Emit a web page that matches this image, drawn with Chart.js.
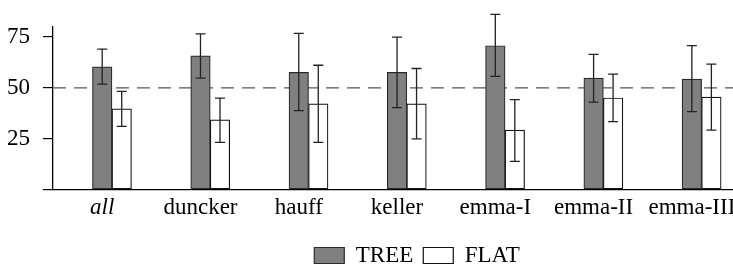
<!DOCTYPE html>
<html>
<head>
<meta charset="utf-8">
<script src="https://cdn.jsdelivr.net/npm/chart.js@4"></script>
<style>
  html, body { margin: 0; padding: 0; background: #fff; }
  #wrap { width: 733px; height: 270px; overflow: hidden; position: relative; }
  #wrap canvas { position: absolute; left: 0; top: 0; }
</style>
</head>
<body>
<div id="wrap"><canvas id="myChart" width="834" height="277"></canvas></div>
<script>
const categories = ['all', 'duncker', 'hauff', 'keller', 'emma-I', 'emma-II', 'emma-III'];
const treeValues = [60.3, 65.7, 57.6, 57.6, 70.7, 54.8, 54.3];
const treeLow = [51.8, 54.8, 38.8, 40.3, 55.6, 43.0, 38.3];
const treeHigh = [69.0, 76.5, 76.8, 74.9, 86.1, 66.4, 70.7];
const flatValues = [39.7, 34.2, 42.1, 42.1, 29.2, 45.0, 45.4];
const flatLow = [31.0, 23.2, 23.2, 24.9, 13.8, 33.4, 29.2];
const flatHigh = [48.2, 44.9, 61.1, 59.5, 44.2, 56.7, 61.6];
const yTicks = [0, 25, 50, 75];
const refLine = 50;

const serif = "'Liberation Serif', 'DejaVu Serif', serif";
Chart.defaults.font.family = serif;
Chart.defaults.font.size = 23;
Chart.defaults.color = '#000';

// dashed reference line + error bars
const extras = {
  id: 'extras',
  beforeDatasetsDraw(chart) {
    const {ctx, chartArea, scales} = chart;
    const y = scales.y.getPixelForValue(refLine);
    ctx.save();
    ctx.strokeStyle = '#555';
    ctx.lineWidth = 1.3;
    ctx.setLineDash([13, 8]);
    ctx.beginPath();
    ctx.moveTo(chartArea.left, y);
    ctx.lineTo(chartArea.right, y);
    ctx.stroke();
    ctx.restore();
  },
  afterDatasetsDraw(chart) {
    const {ctx, scales} = chart;
    ctx.save();
    ctx.strokeStyle = '#222';
    ctx.lineWidth = 1.3;
    chart.data.datasets.forEach((ds, d) => {
      const meta = chart.getDatasetMeta(d);
      meta.data.forEach((bar, i) => {
        const yl = scales.y.getPixelForValue(ds.errLow[i]);
        const yh = scales.y.getPixelForValue(ds.errHigh[i]);
        ctx.beginPath();
        ctx.moveTo(bar.x, yl);
        ctx.lineTo(bar.x, yh);
        ctx.moveTo(bar.x - 5, yl);
        ctx.lineTo(bar.x + 5, yl);
        ctx.moveTo(bar.x - 5, yh);
        ctx.lineTo(bar.x + 5, yh);
        ctx.stroke();
      });
    });
    ctx.restore();
  }
};

const data = {
  datasets: [
    {
      label: 'TREE',
      data: categories.map((c, i) => ({x: i, y: treeValues[i]})),
      errLow: treeLow,
      errHigh: treeHigh,
      backgroundColor: '#808080',
      borderColor: '#2a2a2a',
      borderWidth: 1.2,
      borderSkipped: false
    },
    {
      label: 'FLAT',
      data: categories.map((c, i) => ({x: i, y: flatValues[i]})),
      errLow: flatLow,
      errHigh: flatHigh,
      backgroundColor: '#ffffff',
      borderColor: '#111',
      borderWidth: 1.2,
      borderSkipped: false
    }
  ]
};

const config = {
  type: 'bar',
  data: data,
  plugins: [extras],
  options: {
    responsive: false,
    animation: false,
    barThickness: 19.5,
    layout: { padding: { top: 21, left: 0, right: 0, bottom: 0 } },
    scales: {
      x: {
        type: 'linear',
        offset: false,
        min: -0.6,
        max: 7.347,
        afterBuildTicks: (axis) => { axis.ticks = categories.map((c, i) => ({value: i})); },
        afterFit: (scale) => { scale.height = 44.5; },
        grid: { display: false, drawTicks: false, offset: false },
        border: { display: true, color: '#000', width: 1.3 },
        ticks: {
          autoSkip: false,
          maxRotation: 0,
          padding: 5,
          labelOffset: -9.75,
          color: '#000',
          font: (ctx) => ({ family: serif, size: 23, style: ctx.index === 0 ? 'italic' : 'normal' }),
          callback: (v) => categories[v]
        }
      },
      y: {
        min: 0,
        max: 80,
        afterBuildTicks: (axis) => { axis.ticks = yTicks.map(v => ({value: v})); },
        afterFit: (scale) => { scale.width = 53; },
        grid: { drawOnChartArea: false, drawTicks: true, tickLength: 10, color: '#000', lineWidth: 1.2 },
        border: { display: true, color: '#000', width: 1.3 },
        ticks: {
          padding: 13,
          color: '#000',
          font: { family: serif, size: 23 },
          callback: (v) => v === 0 ? '' : v
        }
      }
    },
    plugins: {
      legend: {
        position: 'bottom',
        labels: {
          boxWidth: 30,
          boxHeight: 16,
          padding: 10,
          color: '#000',
          font: { family: serif, size: 23 }
        }
      },
      tooltip: { enabled: false }
    }
  }
};

const myChart = new Chart(document.getElementById('myChart'), config);
</script>
</body>
</html>
